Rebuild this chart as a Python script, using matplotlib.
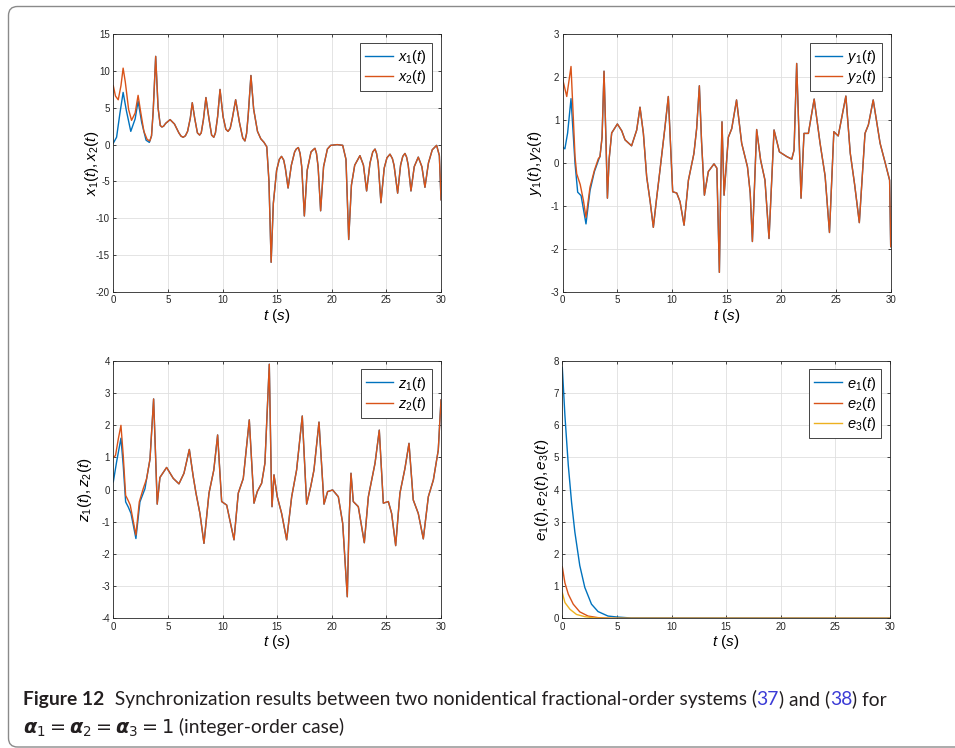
import numpy as np
import matplotlib
matplotlib.use('Agg')
import matplotlib.pyplot as plt
from matplotlib.patches import FancyBboxPatch
from matplotlib.transforms import IdentityTransform

plt.rcParams['font.family'] = ['Liberation Sans', 'DejaVu Sans']
plt.rcParams['mathtext.fontset'] = 'custom'
plt.rcParams['mathtext.rm'] = 'Liberation Sans'
plt.rcParams['mathtext.it'] = 'Liberation Sans:italic'
plt.rcParams['mathtext.bf'] = 'Liberation Sans:bold'
plt.rcParams['axes.unicode_minus'] = False

# ---- data: (t, value) ----
# x panel: the two systems differ until ~3.5 s, then overlap
x1_head = [(0, 0.2), (0.3, 1.0), (0.6, 4.2), (0.9, 7.1), (1.2, 4.6), (1.6, 1.8), (2.0, 3.5),
           (2.27, 5.9), (2.6, 3.0), (3.0, 0.6), (3.3, 0.3)]
x2_head = [(0, 8.0), (0.2, 6.6), (0.45, 6.1), (0.7, 8.0), (0.9, 10.4), (1.1, 8.5), (1.4, 4.8),
           (1.67, 3.3), (2.0, 4.3), (2.27, 6.7), (2.5, 4.5), (2.8, 1.8), (3.1, 0.7), (3.35, 0.5)]
x_tail = [(3.5, 1.2), (3.65, 4.5), (3.88, 12.0), (4.1, 5.0), (4.3, 2.6), (4.45, 2.4), (4.6, 2.5),
          (4.8, 2.9), (5.2, 3.4), (5.6, 2.8), (6.0, 1.6), (6.2, 1.15), (6.4, 1.0), (6.6, 1.2),
          (6.8, 1.8), (7.05, 3.6), (7.23, 5.7), (7.45, 3.6), (7.7, 1.6), (7.9, 1.3), (8.05, 1.6),
          (8.25, 3.4), (8.48, 6.4), (8.75, 3.6), (9.0, 1.3), (9.2, 1.0), (9.35, 1.6), (9.55, 3.8),
          (9.77, 7.5), (10.05, 3.8), (10.3, 2.1), (10.5, 1.8), (10.7, 2.2), (10.9, 3.6),
          (11.2, 6.1), (11.55, 3.0), (11.85, 0.9), (12.05, 0.5), (12.2, 1.5), (12.35, 4.0),
          (12.6, 9.4), (12.85, 4.8), (13.2, 1.8), (13.5, 0.8), (13.8, 0.3), (14.05, -0.3),
          (14.25, -5.0), (14.45, -16.0), (14.65, -8.0), (14.95, -3.5), (15.2, -2.0), (15.4, -1.6),
          (15.6, -2.1), (15.75, -3.2), (16.0, -5.9), (16.3, -2.8), (16.6, -1.0), (16.75, -0.6),
          (16.94, -0.4), (17.1, -1.2), (17.25, -3.0), (17.49, -9.7), (17.75, -3.5), (18.1, -1.0),
          (18.3, -0.7), (18.46, -0.5), (18.6, -1.2), (18.75, -3.0), (18.98, -9.0), (19.25, -3.0),
          (19.6, -0.6), (19.9, -0.1), (20.5, 0.0), (21.0, -0.1), (21.3, -2.0), (21.55, -12.9),
          (21.8, -5.5), (22.1, -2.8), (22.58, -1.5), (22.9, -2.8), (23.19, -6.3), (23.5, -2.5),
          (23.75, -1.0), (23.96, -0.6), (24.1, -1.2), (24.25, -2.5), (24.5, -7.9), (24.8, -3.2),
          (25.05, -1.8), (25.33, -1.3), (25.55, -1.9), (25.7, -2.8), (26.03, -6.6), (26.3, -2.8),
          (26.5, -1.6), (26.7, -1.2), (26.85, -1.7), (27.0, -2.8), (27.25, -6.3), (27.55, -3.0),
          (27.92, -1.7), (28.25, -3.0), (28.53, -5.8), (28.85, -2.5), (29.2, -0.7), (29.6, -0.1),
          (29.85, -1.5), (30.0, -7.5)]

y1_head = [(0, 0.37), (0.2, 0.33), (0.45, 0.7), (0.76, 1.5), (1.13, -0.02), (1.37, -0.68),
           (1.68, -0.76), (2.13, -1.42), (2.5, -0.64), (2.9, -0.2), (3.32, 0.1)]
y2_head = [(0, 1.95), (0.37, 1.55), (0.76, 2.25), (1.13, 0.14), (1.28, -0.25), (1.6, -0.5),
           (1.9, -0.88), (2.13, -1.27), (2.5, -0.56), (2.9, -0.17), (3.26, 0.1)]
y_tail = [(3.41, 0.15), (3.6, 0.6), (3.78, 2.14), (3.95, 0.6), (4.09, -0.82), (4.25, 0.1),
          (4.48, 0.7), (5.0, 0.91), (5.4, 0.75), (5.7, 0.54), (6.3, 0.4), (6.77, 0.77), (7.07, 1.3),
          (7.38, 0.69), (7.68, -0.32), (8.0, -0.9), (8.29, -1.5), (8.6, -0.8), (8.9, -0.16),
          (9.36, 0.85), (9.66, 1.55), (9.85, 0.5), (10.06, -0.67), (10.43, -0.7), (10.73, -0.9),
          (11.1, -1.45), (11.5, -0.4), (12.0, 0.22), (12.25, 0.8), (12.5, 1.8), (12.7, 0.5),
          (12.96, -0.75), (13.32, -0.2), (13.84, -0.02), (14.1, -0.12), (14.33, -2.55),
          (14.45, -0.6), (14.57, 0.96), (14.76, -0.75), (15.15, 0.6), (15.46, 0.8), (15.9, 1.47),
          (16.37, 0.46), (16.9, -0.09), (17.15, -0.7), (17.35, -1.83), (17.74, 0.78), (18.1, 0.07),
          (18.5, -0.4), (18.87, -1.76), (19.33, 0.77), (19.82, 0.26), (20.49, 0.15), (20.95, 0.09),
          (21.16, 0.3), (21.4, 2.32), (21.8, -0.82), (22.07, 0.69), (22.47, 0.69), (23.0, 1.49),
          (23.54, 0.46), (24.0, -0.3), (24.4, -1.62), (24.8, 0.73), (25.2, 0.63), (25.9, 1.56),
          (26.3, 0.23), (26.7, -0.5), (27.13, -1.39), (27.65, 0.69), (27.96, 0.89), (28.4, 1.47),
          (29.03, 0.46), (29.5, 0.0), (29.9, -0.4), (30.0, -1.95)]

z1_head = [(0, 0.24), (0.3, 0.86), (0.7, 1.6), (0.91, 0.75), (1.13, -0.38), (1.37, -0.54),
           (1.62, -0.74), (2.07, -1.52), (2.44, -0.38), (2.9, 0.03)]
z2_head = [(0, 1.0), (0.2, 1.06), (0.46, 1.58), (0.7, 2.0), (0.91, 1.06), (1.13, -0.18),
           (1.31, -0.3), (1.55, -0.48), (2.07, -1.41), (2.38, -0.38), (2.74, 0.03)]
z_tail = [(3.05, 0.34), (3.36, 0.95), (3.69, 2.82), (3.87, 1.06), (4.02, -0.45), (4.27, 0.38),
          (4.88, 0.69), (5.49, 0.35), (6.01, 0.18), (6.47, 0.51), (6.96, 1.25), (7.32, 0.4),
          (7.57, -0.11), (7.93, -0.74), (8.3, -1.67), (8.76, -0.11), (9.2, 0.61), (9.55, 1.7),
          (9.92, -0.37), (10.38, -0.48), (11.05, -1.56), (11.44, -0.11), (11.9, 0.35),
          (12.45, 2.17), (12.88, -0.42), (13.18, -0.06), (13.58, 0.2), (13.88, 0.82), (14.28, 3.9),
          (14.46, 0.4), (14.53, -0.53), (14.71, 0.46), (15.01, -0.22), (15.41, -0.74),
          (15.87, -1.56), (16.33, -0.22), (16.78, 0.61), (17.3, 2.29), (17.7, -0.45), (18.07, 0.09),
          (18.37, 0.61), (18.83, 2.1), (19.29, -0.45), (19.62, -0.06), (20.08, -0.01),
          (20.6, -0.22), (21.0, -1.05), (21.42, -3.33), (21.6, -0.84), (21.76, 0.51),
          (21.97, -0.37), (22.43, -0.53), (22.98, -1.65), (23.35, -0.22), (23.96, 0.82),
          (24.35, 1.85), (24.72, -0.42), (25.18, -0.37), (25.48, -0.74), (25.85, -1.74),
          (26.24, -0.11), (26.7, 0.66), (27.07, 1.44), (27.46, -0.32), (27.92, -0.74),
          (28.38, -1.53), (28.84, -0.22), (29.3, 0.3), (29.75, 1.23), (30.0, 2.79)]

e1 = [(0, 7.8), (0.24, 6.3), (0.55, 4.75), (0.85, 3.6), (1.15, 2.68), (1.6, 1.64), (2.06, 0.96),
      (2.67, 0.44), (3.27, 0.21), (4.18, 0.07), (5.0, 0.04), (6.3, 0.01), (30, 0.0)]
e2 = [(0, 1.6), (0.24, 1.1), (0.55, 0.75), (1.0, 0.44), (1.6, 0.2), (2.36, 0.07), (3.27, 0.02),
      (4.5, 0.0), (30, 0.0)]
e3 = [(0, 0.8), (0.24, 0.49), (0.7, 0.28), (1.3, 0.12), (2.06, 0.05), (3.0, 0.01), (4.5, 0.0),
      (30, 0.0)]

BLUE, ORANGE, YELLOW = '#0072BD', '#D95319', '#EDB120'
W, H = 955, 748

fig = plt.figure(figsize=(W / 100, H / 100), dpi=100)


def px_axes(left, top, right, bottom):
    return fig.add_axes([left / W, 1 - bottom / H, (right - left) / W, (bottom - top) / H])


def draw(ax, pts, color, label):
    t, v = zip(*pts)
    ax.plot(t, v, color=color, lw=1.0, label=label)


def style(ax, lo, hi, step, ylabel, ylab_x):
    ax.set_xlim(0, 30)
    ax.set_ylim(lo, hi)
    ax.set_xticks(np.arange(0, 31, 5))
    ax.set_yticks(np.arange(lo, hi + 1, step))
    ax.tick_params(direction='in', top=True, right=True, length=2.5, width=0.6,
                   labelsize=7, colors='#262626', pad=2.5)
    ax.grid(True, color='#dfdfdf', lw=0.6)
    ax.set_axisbelow(True)
    for s in ax.spines.values():
        s.set_linewidth(0.6)
        s.set_color('#262626')
    ax.set_xlabel(r'$t\ (s)$', fontsize=11, va='center')
    ax.xaxis.set_label_coords(0.5, -0.093)
    ax.set_ylabel(ylabel, fontsize=11, va='center')
    ax.yaxis.set_label_coords(ylab_x, 0.5)
    leg = ax.legend(loc='upper right', bbox_to_anchor=(1 - 9 / 327.7, 1 - 8.4 / 257.4),
                    borderaxespad=0, fontsize=10.5, fancybox=False, framealpha=1,
                    edgecolor='#262626', handlelength=1.9, handletextpad=0.35,
                    labelspacing=0.15, borderpad=0.35)
    leg.get_frame().set_linewidth(0.6)


ax1 = px_axes(113.3, 34.3, 441, 291.7)
draw(ax1, x1_head + x_tail, BLUE, r'$x_1(t)$')
draw(ax1, x2_head + x_tail, ORANGE, r'$x_2(t)$')
style(ax1, -20, 15, 5, r'$x_1(t),x_2(t)$', -0.065)

ax2 = px_axes(562.7, 34.3, 890.7, 291.7)
draw(ax2, y1_head + y_tail, BLUE, r'$y_1(t)$')
draw(ax2, y2_head + y_tail, ORANGE, r'$y_2(t)$')
style(ax2, -3, 3, 1, r'$y_1(t),y_2(t)$', -0.084)

ax3 = px_axes(113.3, 361, 441, 618.3)
draw(ax3, z1_head + z_tail, BLUE, r'$z_1(t)$')
draw(ax3, z2_head + z_tail, ORANGE, r'$z_2(t)$')
style(ax3, -4, 4, 1, r'$z_1(t),z_2(t)$', -0.086)

ax4 = px_axes(562.3, 361, 890, 618.3)
draw(ax4, e1, BLUE, r'$e_1(t)$')
draw(ax4, e2, ORANGE, r'$e_2(t)$')
draw(ax4, e3, YELLOW, r'$e_3(t)$')
style(ax4, 0, 8, 1, r'$e_1(t),e_2(t),e_3(t)$', -0.063)

# page frame with rounded corners
frame = FancyBboxPatch((8.5, 1.0), 980, 740.5, boxstyle='round,pad=0,rounding_size=9',
                       transform=IdentityTransform(), fill=False, ec='#8a8a8a', lw=1.0)
fig.add_artist(frame)

# caption
rend = fig.canvas.get_renderer()
cap_font = ['Lato', 'DejaVu Sans']
cap_size = 13.9
x = 23.3
pieces = [('Figure 12', 'bold', '#231f20'),
          ('  Synchronization results between two nonidentical fractional-order systems (', 'normal', '#231f20'),
          ('37', 'normal', '#3b3bd6'),
          (') and (', 'normal', '#231f20'),
          ('38', 'normal', '#3b3bd6'),
          (') for', 'normal', '#231f20')]
for s, wgt, col in pieces:
    txt = fig.text(x, H - 705, s, transform=IdentityTransform(), fontsize=cap_size,
                   fontweight=wgt, color=col, family=cap_font, va='baseline')
    x = txt.get_window_extent(rend).x1

txt = fig.text(23.3, H - 733.3, r'$\mathbfit{\alpha}_1 = \mathbfit{\alpha}_2 = \mathbfit{\alpha}_3 = 1$',
               transform=IdentityTransform(), fontsize=cap_size, color='#231f20',
               math_fontfamily='dejavusans', va='baseline')
x2 = txt.get_window_extent(rend).x1
fig.text(x2, H - 733.3, ' (integer-order case)', transform=IdentityTransform(),
         fontsize=cap_size, color='#231f20', family=cap_font, va='baseline')

fig.savefig('out.png', dpi=100)
